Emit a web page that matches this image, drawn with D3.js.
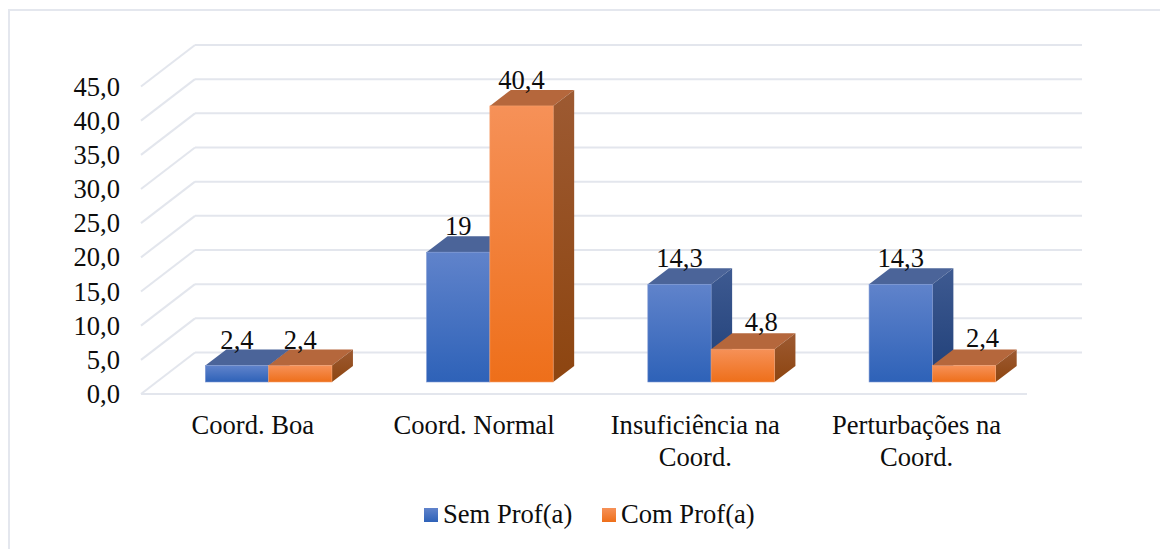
<!DOCTYPE html>
<html><head><meta charset="utf-8">
<style>html,body{margin:0;padding:0;background:#fff}svg{display:block}text{font-family:"Liberation Serif",serif;fill:#0d0d0d}</style>
<script src="https://cdn.jsdelivr.net/npm/d3@7"></script></head>
<body><svg id="c" width="1160" height="549"></svg>
<script>
const categories = ["Coord. Boa","Coord. Normal","Insuficiência na|Coord.","Perturbações na|Coord."];
const seriesNames = ["Sem Prof(a)","Com Prof(a)"];
const semProf = [2.4,19,14.3,14.3];
const comProf = [2.4,40.4,4.8,2.4];
const valueLabels = [["2,4","19","14,3","14,3"],["2,4","40,4","4,8","2,4"]];
const ticks = [0,5,10,15,20,25,30,35,40,45];

const svg = d3.select("#c");
svg.append("path").attr("d","M9,549V10H1160").attr("fill","none").attr("stroke","#e4e7ee").attr("stroke-width",2);

const defs=svg.append("defs");
function grad(id,c1,c2,x2,y2){const g=defs.append("linearGradient").attr("id",id).attr("x1",0).attr("y1",0).attr("x2",x2).attr("y2",y2);
 g.append("stop").attr("offset",0).attr("stop-color",c1);g.append("stop").attr("offset",1).attr("stop-color",c2);}
grad("fb","#6083cb","#2e62b8",0,1);
grad("fo","#f69158","#ee6f1a",0,1);
grad("sb","#3e5a91","#1f3f78",0,1);
grad("so","#9d5a32","#8d4510",0,1);

const depthX=21, depthY=16;
const wallX=54, wallY=41.5;
const y=d3.scaleLinear().domain([0,45]).range([394,86.5]);
const barBase=382;
const unit=y(0)-y(1);
const x0=d3.scaleBand().domain(d3.range(categories.length)).range([158,1043]);
const x1=d3.scaleBand().domain([0,1]).range([0,126.6]);
const bx=i=>x0(i)+(x0.bandwidth()-126.6)/2;
const vy=v=>barBase-v*unit;

const grid=svg.append("g").attr("fill","none").attr("stroke","#e3e6ed").attr("stroke-width",2);
ticks.forEach(t=>{
  grid.append("line").attr("x1",141).attr("y1",y(t)).attr("x2",141+wallX).attr("y2",y(t)-wallY);
  grid.append("line").attr("x1",141+wallX).attr("y1",y(t)-wallY).attr("x2",1082).attr("y2",y(t)-wallY);
});
grid.append("line").attr("x1",141).attr("y1",y(0)).attr("x2",1027).attr("y2",y(0));

const fs=26.6;
svg.append("g").selectAll("text").data(ticks).join("text")
 .attr("x",120).attr("y",t=>y(t)+9).attr("text-anchor","end").attr("font-size",fs)
 .text(t=>d3.format(".1f")(t).replace(".",","));

const series=[semProf,comProf];
const fills=[["url(#fb)","url(#sb)","#4b6499","#7d97d2"],["url(#fo)","url(#so)","#b5673c","#f5a06e"]];
const bars=svg.append("g");
series.forEach((vals,s)=>{
  vals.forEach((v,i)=>{
    const l=bx(i)+x1(s), w=x1.bandwidth(), t=vy(v), b=barBase;
    const g=bars.append("g");
    g.append("polygon").attr("fill",fills[s][2]).attr("points",[[l,t],[l+depthX,t-depthY],[l+w+depthX,t-depthY],[l+w,t]].join(" "));
    g.append("polygon").attr("fill",fills[s][1]).attr("points",[[l+w,t],[l+w+depthX,t-depthY],[l+w+depthX,b-depthY],[l+w,b]].join(" "));
    g.append("rect").attr("x",l).attr("y",t).attr("width",w).attr("height",b-t).attr("fill",fills[s][0])
     .attr("stroke",fills[s][3]).attr("stroke-width",0.6);
  });
});
const labels=svg.append("g").attr("text-anchor","middle").attr("font-size",fs);
series.forEach((vals,s)=>vals.forEach((v,i)=>{
  // labels of a bar standing next to a taller bar are pushed clear of its side face
  const clear = s===1 && semProf[i]>comProf[i];
  labels.append("text").attr("x",bx(i)+x1(s)+x1.bandwidth()/2+(clear?18.5:0))
    .attr("y",vy(v)-depthY-(clear?2.5:1)).text(valueLabels[s][i]);
}));
const cat=svg.append("g").attr("text-anchor","middle").attr("font-size",fs);
categories.forEach((c,i)=>{
  c.split("|").forEach((ln,k)=>cat.append("text").attr("x",bx(i)+47.5).attr("y",434+k*32).text(ln));
});
const leg=svg.append("g").attr("font-size",fs);
[[424,443],[602,621]].forEach((p,s)=>{
  leg.append("rect").attr("x",p[0]).attr("y",508).attr("width",14).attr("height",14).attr("fill",s?"url(#fo)":"url(#fb)");
  leg.append("text").attr("x",p[1]).attr("y",523).text(seriesNames[s]);
});
</script></body></html>
